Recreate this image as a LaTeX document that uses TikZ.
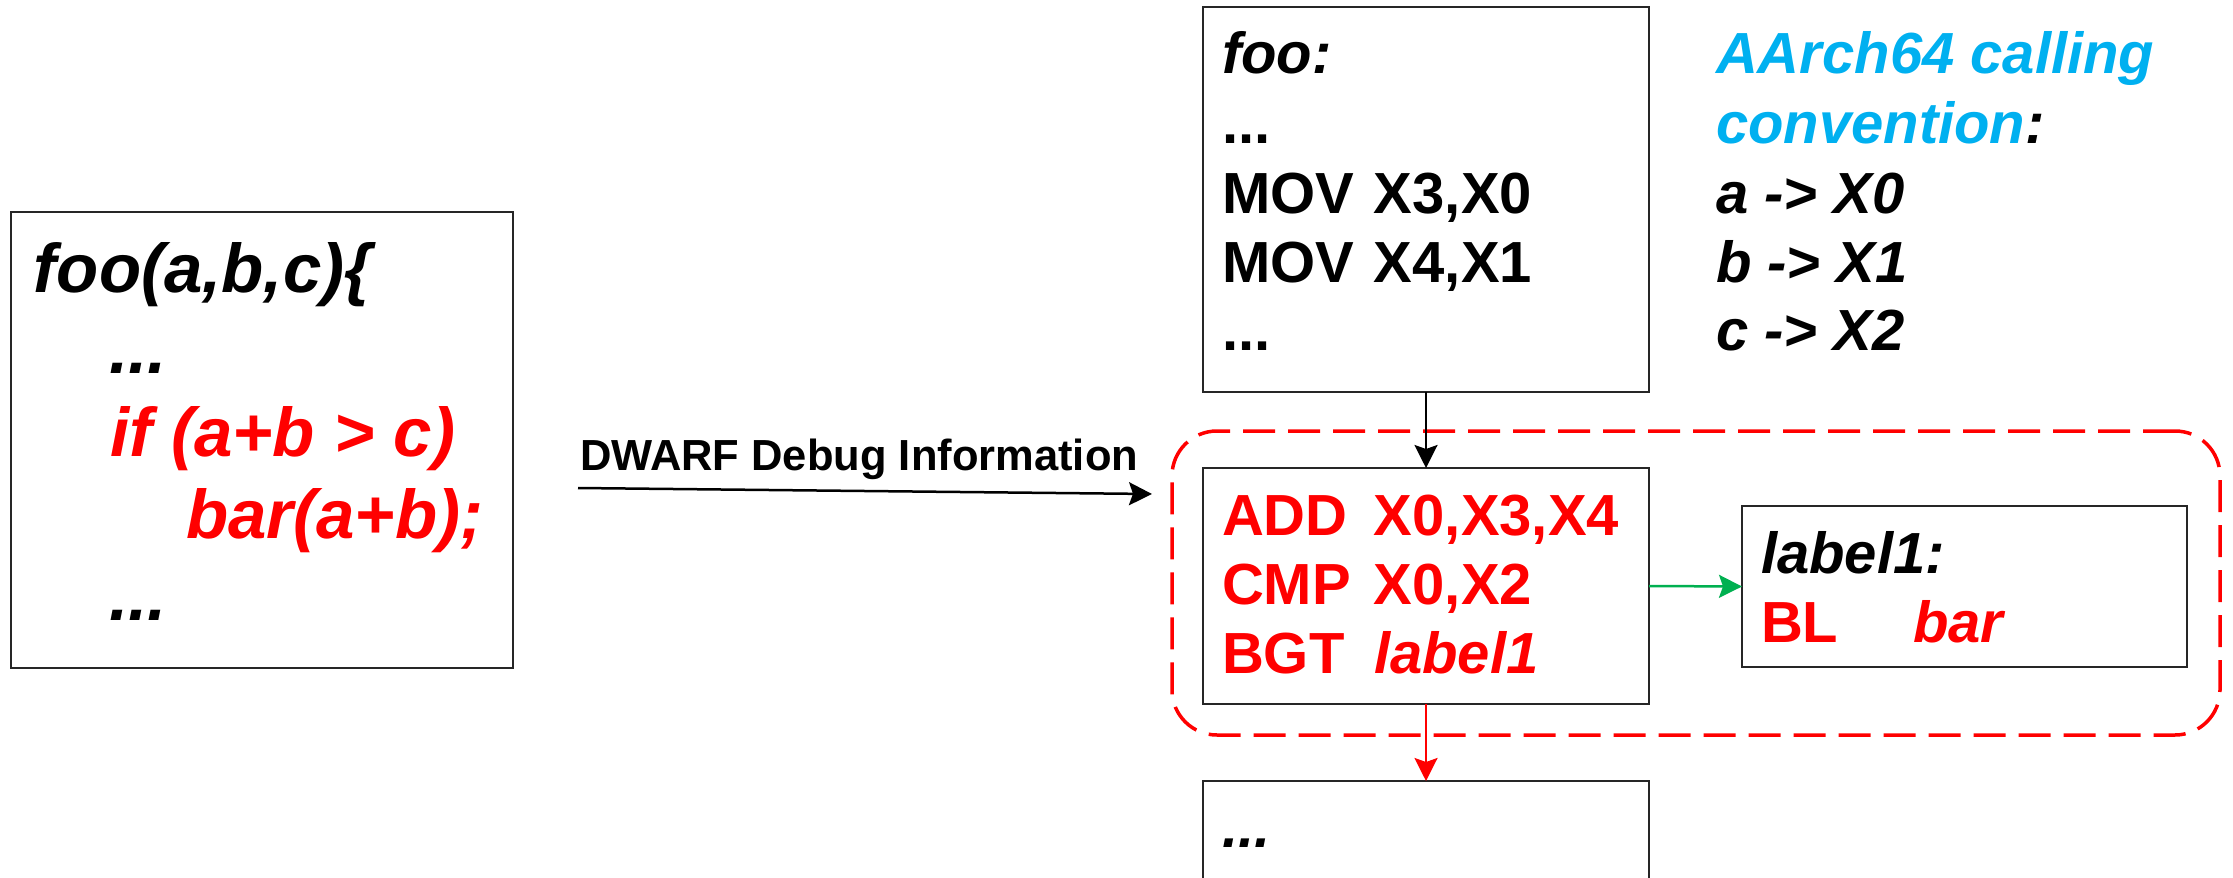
\documentclass[tikz,border=0pt]{standalone}
\usepackage{fontspec}
\setmainfont{Liberation Sans}
\usetikzlibrary{arrows.meta}
\definecolor{hlred}{RGB}{255,0,0}
\definecolor{hlgreen}{RGB}{0,176,80}
\definecolor{hlblue}{RGB}{0,176,240}
% fixed-width mnemonic column, so operands line up
\newcommand\mnem[1]{\makebox[152pt][l]{#1}}
\begin{document}
\begin{tikzpicture}[x=1pt,y=-1pt,
  codebox/.style={draw=black!85, line width=1.8pt, inner sep=0pt, outer sep=0pt},
  code/.style={anchor=base west, inner sep=0pt, outer sep=0pt,
    font=\bfseries\fontsize{58}{60}\selectfont},
  srccode/.style={code, font=\bfseries\itshape\fontsize{69}{72}\selectfont},
  conn/.style={line width=2.5pt, -{Stealth[length=23pt,width=23pt,inset=4pt]}},
  group/.style={draw=hlred, line width=3.5pt, dash pattern=on 32pt off 13pt,
    rounded corners=45pt, inner sep=0pt, outer sep=0pt}]
\useasboundingbox (0,0) rectangle (2233,878);
\fill[white] (0,0) rectangle (2233,878);
\clip (0,0) rectangle (2233,878);

% source code
\node[codebox, minimum width=502, minimum height=456] (src) at (262,440) {};
\node[srccode] (s1) at (34,292) {foo(a,b,c)\{};
\node[srccode] (s2) at (109,373) {...};
\node[srccode, text=hlred] (s3) at (110,456) {if (a+b > c)};
\node[srccode, text=hlred] (s4) at (186,538) {bar(a+b);};
\node[srccode] (s5) at (109,620) {...};

% debug info arrow
\node[code, font=\bfseries\fontsize{43.5}{45}\selectfont] (dwarf) at (580,470) {DWARF Debug Information};
\coordinate (dS) at (578,488);
\coordinate (dE) at (1152,494);
\draw[conn] (dS) -- (dE);

% highlighted region
\node[group, minimum width=1048, minimum height=304] (grp) at (1696,583) {};

% function entry block
\node[codebox, minimum width=446, minimum height=385] (entry) at (1426,199.5) {};
\node[code] (e1) at (1222,73) {\itshape foo:};
\node[code] (e2) at (1222,143) {...};
\node[code] (e3) at (1222,213) {\mnem{MOV}X3,X0};
\node[code] (e4) at (1222,282) {\mnem{MOV}X4,X1};
\node[code] (e5) at (1222,350) {...};

% calling convention note
\node[code] (c1) at (1716,73) {\itshape\color{hlblue}AArch64 calling};
\node[code] (c2) at (1716,143) {\itshape{\color{hlblue}convention}:};
\node[code] (c3) at (1716,213) {\itshape a -> X0};
\node[code] (c4) at (1716,282) {\itshape b -> X1};
\node[code] (c5) at (1716,350) {\itshape c -> X2};

% condition block
\node[codebox, minimum width=446, minimum height=236] (cond) at (1426,586) {};
\node[code, text=hlred] (k1) at (1222,535) {\mnem{ADD}X0,X3,X4};
\node[code, text=hlred] (k2) at (1222,604) {\mnem{CMP}X0,X2};
\node[code, text=hlred] (k3) at (1222,673) {\mnem{BGT}\textit{label1}};

% branch target block
\node[codebox, minimum width=445, minimum height=161] (lbl) at (1964.5,586.5) {};
\node[code] (l1) at (1761,573) {\itshape label1:};
\node[code, text=hlred] (l2) at (1761,642) {\mnem{BL}\textit{bar}};

% fall-through block
\node[codebox, minimum width=446, minimum height=219] (next) at (1426,890.5) {};
\node[code] (n1) at (1222,847) {\itshape ...};

% control flow
\draw[conn] (entry.south) -- (cond.north);
\draw[conn, hlgreen] (cond.east) -- (lbl.west);
\draw[conn, hlred] (cond.south) -- (next.north);
\end{tikzpicture}
\end{document}
